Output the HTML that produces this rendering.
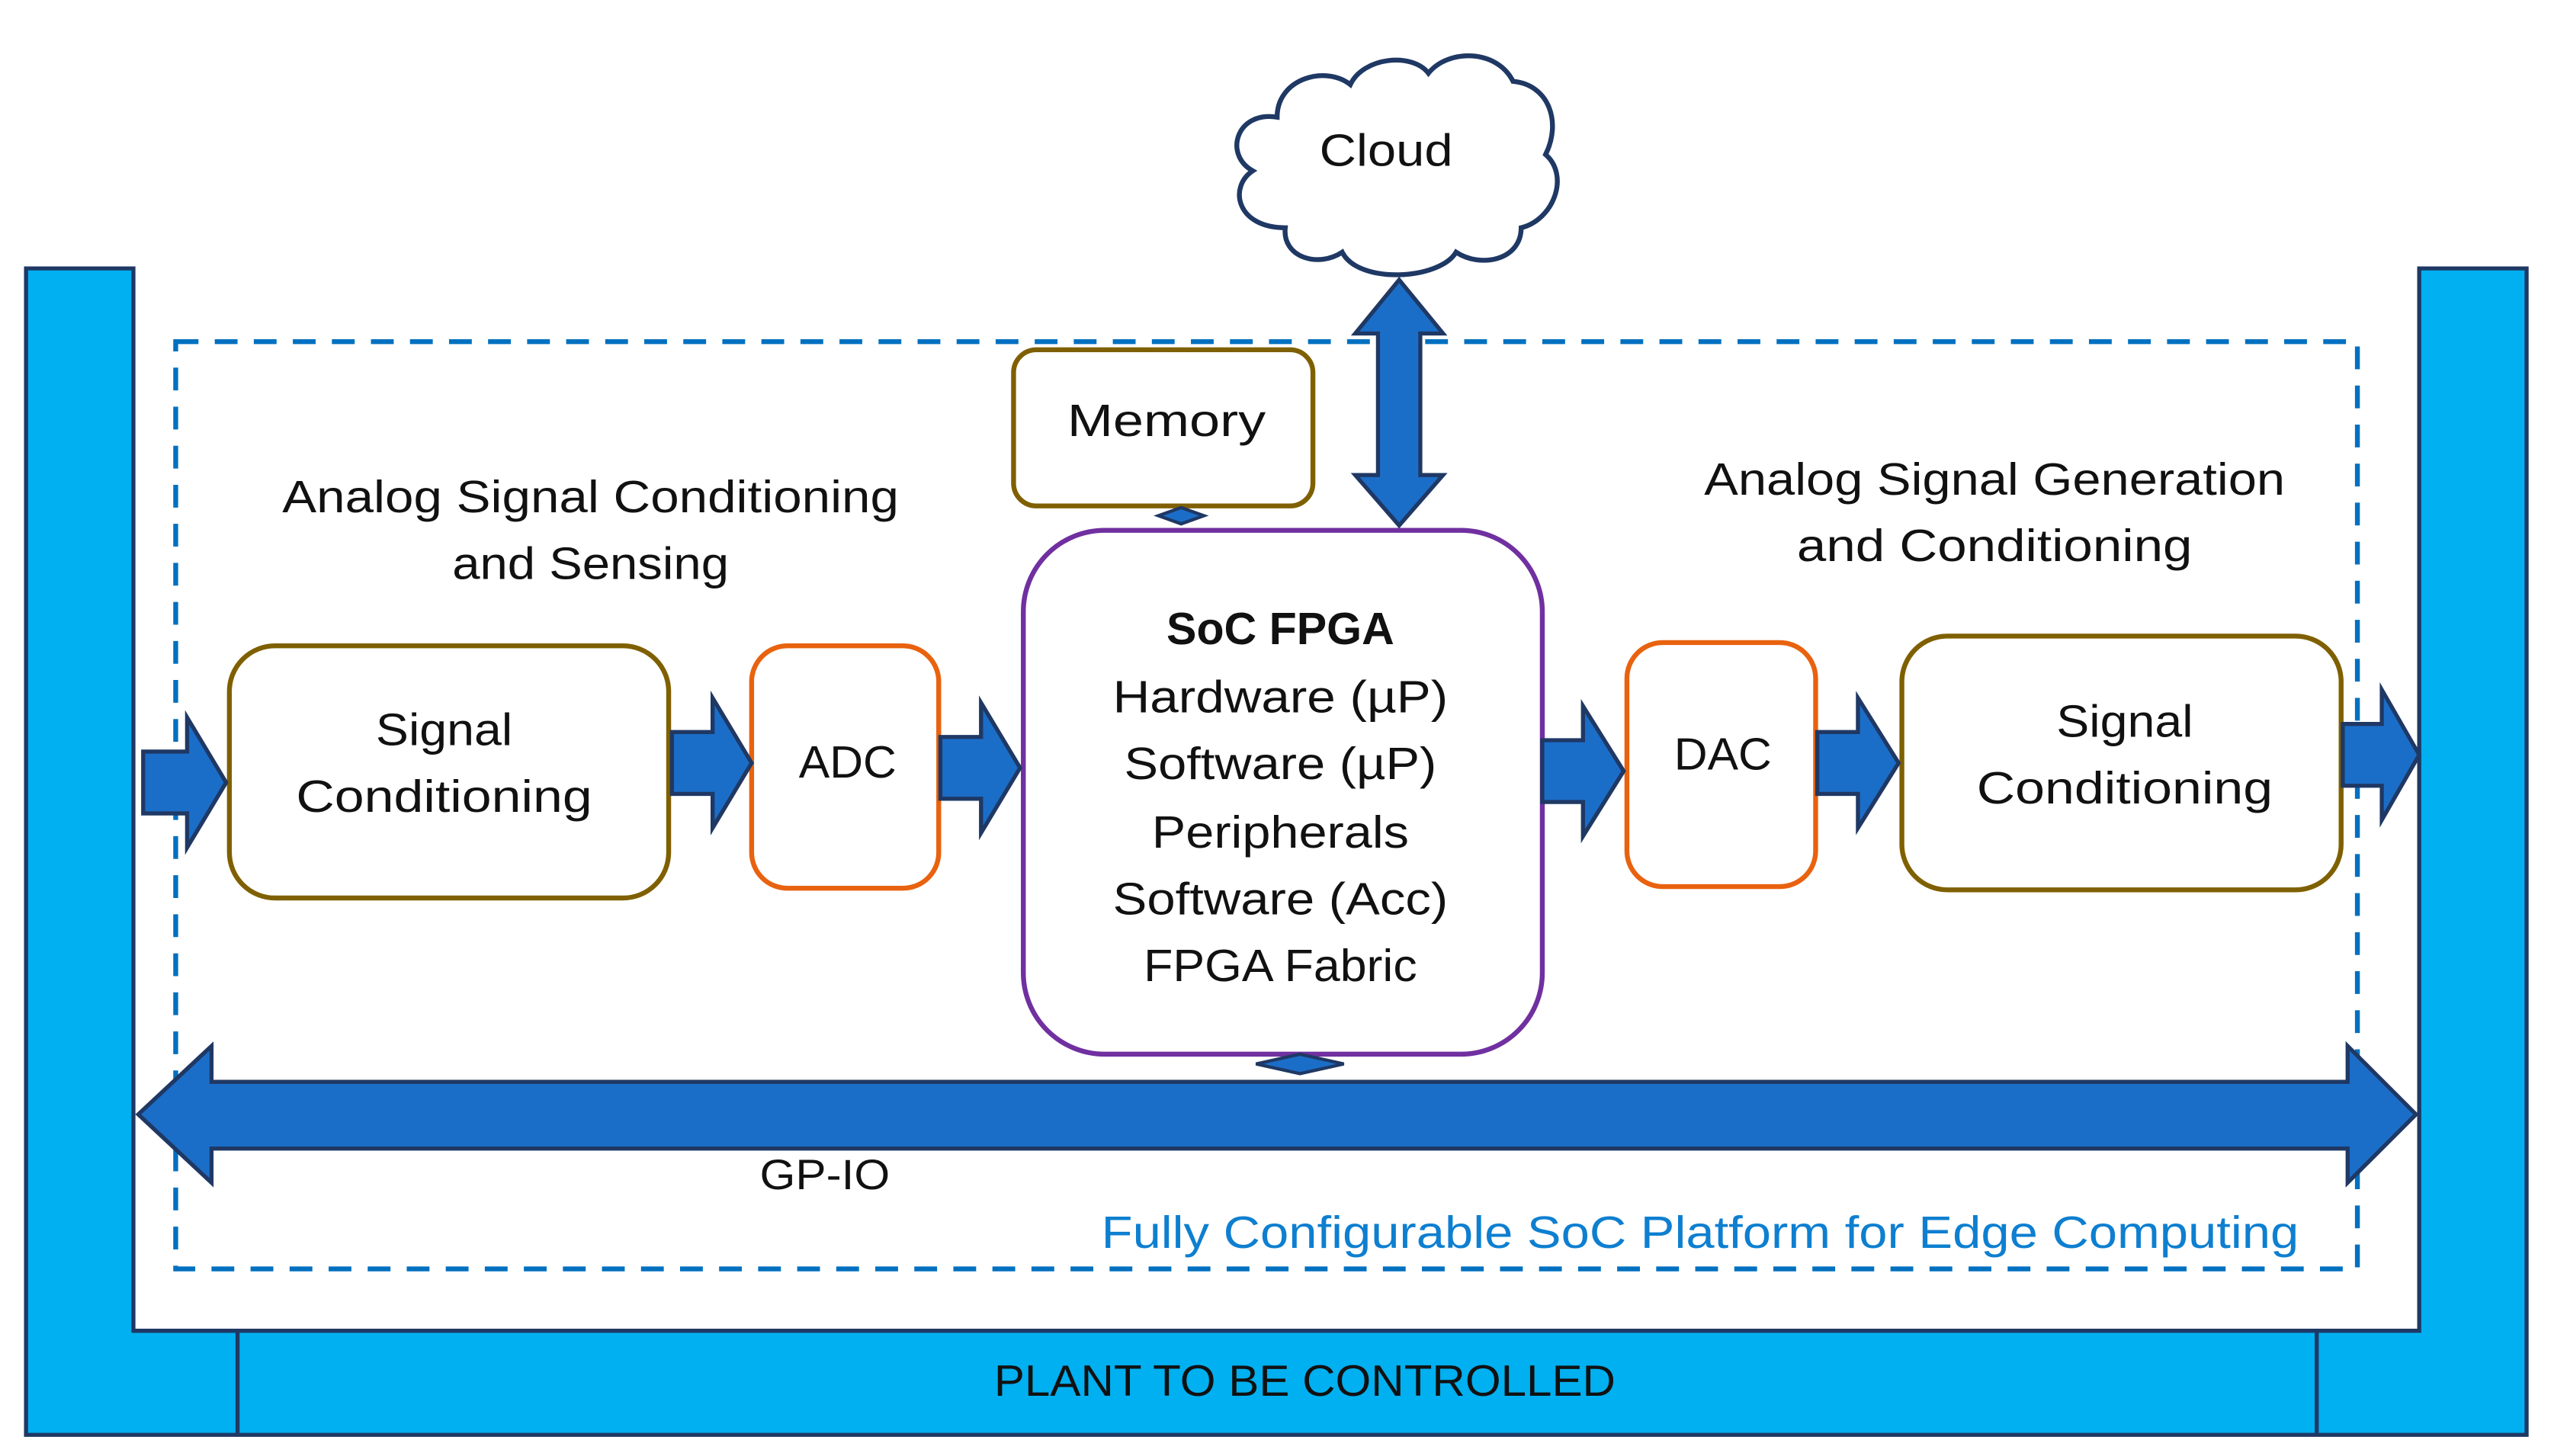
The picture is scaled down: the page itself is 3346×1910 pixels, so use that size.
<!DOCTYPE html>
<html><head><meta charset="utf-8"><style>
html,body{margin:0;padding:0;background:#fff}
svg{display:block}
text{font-family:"Liberation Sans",sans-serif;fill:#111}
</style></head><body>
<svg width="3346" height="1910" viewBox="0 0 1568 895" preserveAspectRatio="none" xmlns="http://www.w3.org/2000/svg">
<rect x="0" y="0" width="1568" height="895" fill="#fff"/>
<!-- plant U shape -->
<path d="M16,165 H82 V818 H1487 V165 H1553 V882 H16 Z" fill="#00B0F0" stroke="#1F3864" stroke-width="2.5"/>
<line x1="146" y1="818" x2="146" y2="882" stroke="#1F3864" stroke-width="2.5"/>
<line x1="1424" y1="818" x2="1424" y2="882" stroke="#1F3864" stroke-width="2.5"/>
<line x1="82" y1="818" x2="146" y2="818" stroke="#1F3864" stroke-width="2.5"/>
<text x="802" y="858" font-size="27" text-anchor="middle" textLength="382" lengthAdjust="spacingAndGlyphs">PLANT TO BE CONTROLLED</text>

<!-- dashed platform -->
<rect x="108" y="210" width="1341" height="570" fill="none" stroke="#0070C0" stroke-width="3" stroke-dasharray="14,10"/>

<!-- cloud -->
<path d="M790,140 C760,140 755,115 770,105 C752,95 760,68 785,72 C785,48 815,40 830,52 C838,35 868,32 878,45 C890,30 920,30 930,50 C952,52 960,75 950,95 C965,108 955,135 935,140 C935,160 910,165 895,155 C885,172 835,175 825,155 C810,165 788,158 790,140 Z" fill="#fff" stroke="#1F3864" stroke-width="3"/>
<text x="852" y="102" font-size="28" text-anchor="middle" textLength="82" lengthAdjust="spacingAndGlyphs">Cloud</text>

<!-- vertical double arrow -->
<path d="M860,172 L887,205 L873,205 L873,292 L887,292 L860,323 L833,292 L847,292 L847,205 L833,205 Z" fill="#1B6EC8" stroke="#1F3864" stroke-width="2.5"/>

<!-- memory -->
<rect x="623" y="215" width="184" height="96" rx="14" fill="#fff" stroke="#7F6000" stroke-width="3"/>
<text x="717" y="268" font-size="28" text-anchor="middle" textLength="122" lengthAdjust="spacingAndGlyphs">Memory</text>
<path d="M712,317 L726,312 L740,317 L726,322 Z" fill="#1B6EC8" stroke="#1F3864" stroke-width="2"/>

<!-- SoC -->
<rect x="629" y="326" width="319" height="322" rx="50" fill="#fff" stroke="#7030A0" stroke-width="3"/>
<text x="787" y="396" font-size="28" font-weight="bold" text-anchor="middle" textLength="140" lengthAdjust="spacingAndGlyphs">SoC FPGA</text>
<text x="787" y="438" font-size="28" text-anchor="middle" textLength="206" lengthAdjust="spacingAndGlyphs">Hardware (µP)</text>
<text x="787" y="479" font-size="28" text-anchor="middle" textLength="192" lengthAdjust="spacingAndGlyphs">Software (µP)</text>
<text x="787" y="521" font-size="28" text-anchor="middle" textLength="158" lengthAdjust="spacingAndGlyphs">Peripherals</text>
<text x="787" y="562" font-size="28" text-anchor="middle" textLength="206" lengthAdjust="spacingAndGlyphs">Software (Acc)</text>
<text x="787" y="603" font-size="28" text-anchor="middle" textLength="168" lengthAdjust="spacingAndGlyphs">FPGA Fabric</text>
<path d="M772,654 L799,648 L826,654 L799,660 Z" fill="#1B6EC8" stroke="#1F3864" stroke-width="2"/>

<!-- labels -->
<text x="363" y="315" font-size="28" text-anchor="middle" textLength="379" lengthAdjust="spacingAndGlyphs">Analog Signal Conditioning</text>
<text x="363" y="356" font-size="28" text-anchor="middle" textLength="170" lengthAdjust="spacingAndGlyphs">and Sensing</text>
<text x="1226" y="304" font-size="28" text-anchor="middle" textLength="357" lengthAdjust="spacingAndGlyphs">Analog Signal Generation</text>
<text x="1226" y="345" font-size="28" text-anchor="middle" textLength="243" lengthAdjust="spacingAndGlyphs">and Conditioning</text>

<!-- left signal conditioning -->
<rect x="141" y="397" width="270" height="155" rx="28" fill="#fff" stroke="#7F6000" stroke-width="3"/>
<text x="273" y="458" font-size="28" text-anchor="middle" textLength="84" lengthAdjust="spacingAndGlyphs">Signal</text>
<text x="273" y="499" font-size="28" text-anchor="middle" textLength="182" lengthAdjust="spacingAndGlyphs">Conditioning</text>
<!-- ADC -->
<rect x="462" y="397" width="115" height="149" rx="22" fill="#fff" stroke="#E8620F" stroke-width="3"/>
<text x="521" y="478" font-size="28" text-anchor="middle" textLength="60" lengthAdjust="spacingAndGlyphs">ADC</text>
<!-- DAC -->
<rect x="1000" y="395" width="116" height="150" rx="22" fill="#fff" stroke="#E8620F" stroke-width="3"/>
<text x="1059" y="473" font-size="28" text-anchor="middle" textLength="60" lengthAdjust="spacingAndGlyphs">DAC</text>
<!-- right signal conditioning -->
<rect x="1169" y="391" width="270" height="156" rx="28" fill="#fff" stroke="#7F6000" stroke-width="3"/>
<text x="1306" y="453" font-size="28" text-anchor="middle" textLength="84" lengthAdjust="spacingAndGlyphs">Signal</text>
<text x="1306" y="494" font-size="28" text-anchor="middle" textLength="182" lengthAdjust="spacingAndGlyphs">Conditioning</text>

<!-- block arrows -->
<g fill="#1B6EC8" stroke="#1F3864" stroke-width="2.5">
<path d="M88,462 H115 V441 L139,481 L115,521 V500 H88 Z"/>
<path d="M413,450 H438 V429 L462,469 L438,509 V488 H413 Z"/>
<path d="M578,453 H603 V432 L627,472 L603,512 V491 H578 Z"/>
<path d="M948,455 H973 V434 L998,474 L973,514 V493 H948 Z"/>
<path d="M1117,450 H1142 V429 L1167,469 L1142,509 V488 H1117 Z"/>
<path d="M1440,445 H1464 V424 L1487,464 L1464,504 V483 H1440 Z"/>
<!-- GP-IO -->
<path d="M85,685 L130,643 V665 H1443 V643 L1485,685 L1443,727 V706 H130 V727 Z"/>
</g>
<text x="507" y="731" font-size="26" text-anchor="middle" textLength="80" lengthAdjust="spacingAndGlyphs">GP-IO</text>
<text x="1045" y="767" font-size="28" text-anchor="middle" textLength="736" lengthAdjust="spacingAndGlyphs" style="fill:#0E7FD0">Fully Configurable SoC Platform for Edge Computing</text>
</svg>
</body></html>
